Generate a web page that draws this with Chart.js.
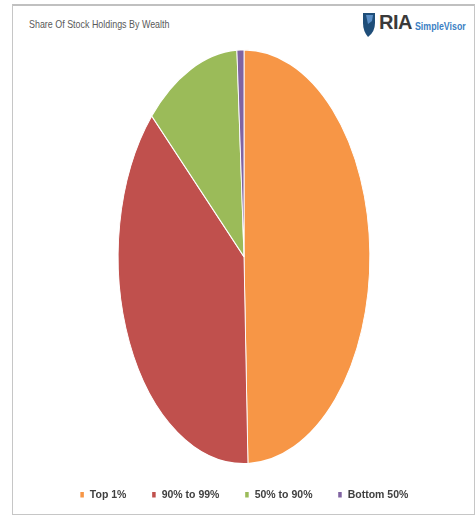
<!DOCTYPE html>
<html>
<head>
<meta charset="utf-8">
<script src="https://cdn.jsdelivr.net/npm/chart.js@4.4.1/dist/chart.umd.min.js"></script>
<style>
  html, body { margin: 0; padding: 0; background: #fff; }
  #wrap { position: relative; width: 476px; height: 515px; overflow: hidden; }
  #frame { position: absolute; left: 12px; top: 4px; width: 461px; height: 508px;
           border: 1px solid #c6c6c6; border-top: 2px solid #c0c0c0; }
  #title { position: absolute; left: 29px; top: 18px; font: 11px "Liberation Sans", sans-serif;
           color: #595959; transform: scaleX(0.81); transform-origin: 0 0; white-space: nowrap; }
  #ria { position: absolute; left: 379px; top: 11px; font: bold 20px "Liberation Sans", sans-serif; color: #3a3a3a; letter-spacing: -0.5px; }
  #sv { position: absolute; left: 415px; top: 21px; font: bold 10px "Liberation Sans", sans-serif; color: #3b7fc4;
        transform: scaleX(0.88); transform-origin: 0 0; white-space: nowrap; }
  canvas { position: absolute; left: 0; top: 0; }
</style>
</head>
<body>
<div id="wrap">
  <div id="frame"></div>
  <div id="title">Share Of Stock Holdings By Wealth</div>
  <svg viewBox="0 0 14 26" width="14" height="26" style="position:absolute;left:362px;top:12px">
    <path d="M1 1 L13 1 L13 11 Q13 20 6 25 Q1 19 1 11 Z" fill="#1f4e79"/>
    <path d="M4 3 L11 3 L10 9 L6 12 Z" fill="#5b8fc7"/>
  </svg>
  <div id="ria">RIA</div>
  <div id="sv">SimpleVisor</div>
  <canvas id="pie" width="476" height="515"></canvas>
</div>
<script>
const categories = ['Top 1%', '90% to 99%', '50% to 90%', 'Bottom 50%'];
const shares = [49.5, 37.4, 12.2, 0.9];
const colors = ['#F79646', '#C0504D', '#9BBB59', '#8064A2'];

// the original pie is a tall ellipse: squash the round one sideways
const WIDTH_RATIO = 0.608;
const ellipsePlugin = {
  id: 'ellipse',
  beforeDatasetsDraw(chart) {
    const arc = chart.getDatasetMeta(0).data[0];
    const ctx = chart.ctx;
    ctx.save();
    ctx.translate(arc.x, arc.y);
    ctx.scale(WIDTH_RATIO, 1);
    ctx.translate(-arc.x, -arc.y);
  },
  afterDatasetsDraw(chart) {
    chart.ctx.restore();
  }
};

new Chart(document.getElementById('pie'), {
  type: 'pie',
  data: {
    labels: categories,
    datasets: [{
      data: shares,
      backgroundColor: colors,
      borderColor: '#ffffff',
      borderWidth: 1.5
    }]
  },
  options: {
    responsive: false,
    animation: false,
    events: [],
    layout: { padding: { left: 12, right: 0, top: 49, bottom: 5 } },
    plugins: {
      tooltip: { enabled: false },
      legend: {
        position: 'bottom',
        labels: {
          boxWidth: 5,
          boxHeight: 7,
          padding: 25,
          color: '#404040',
          font: { family: '"Liberation Sans", sans-serif', size: 10.5, weight: 'bold' }
        }
      }
    }
  },
  plugins: [ellipsePlugin]
});
</script>
</body>
</html>
